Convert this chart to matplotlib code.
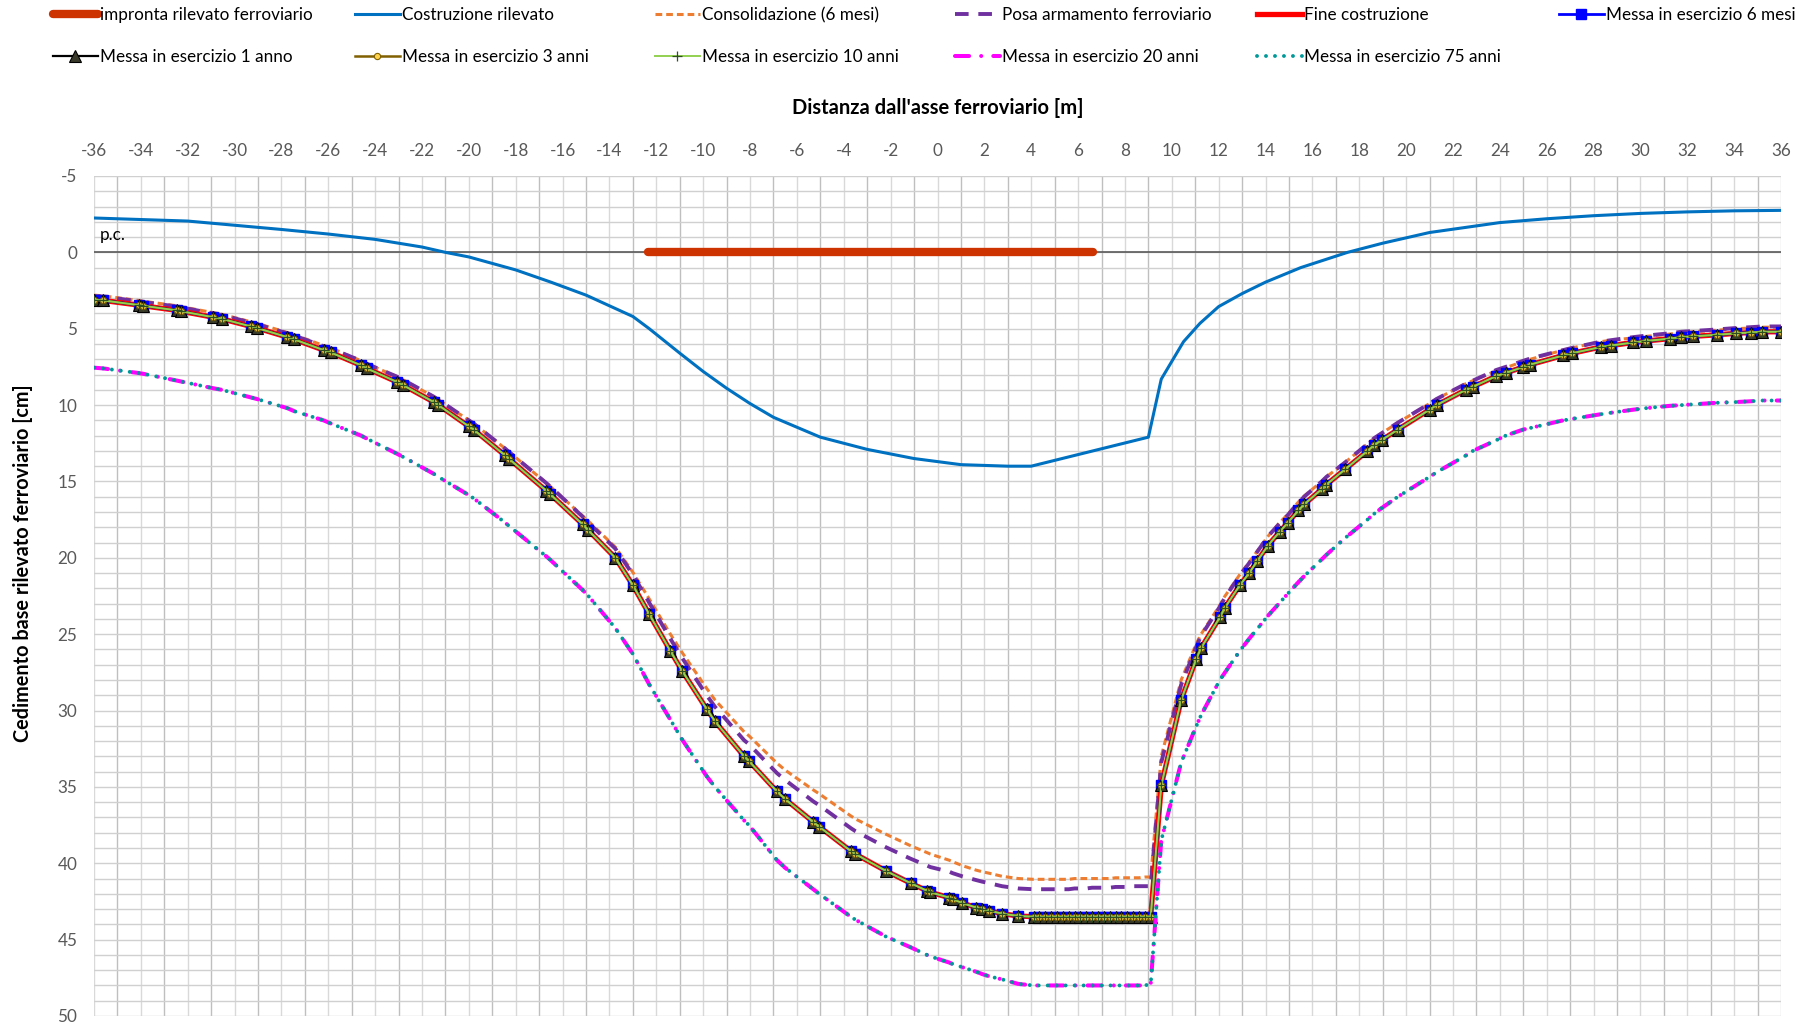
import numpy as np
import matplotlib.pyplot as plt

plt.rcParams['font.family'] = ['Lato', 'DejaVu Sans']
plt.rcParams['axes.unicode_minus'] = False

# ---- dati ----
# impronta del rilevato (da x1 a x2, quota 0)
impronta_x = [-12.35, 6.65]
impronta_y = [0.0, 0.0]

# fase di costruzione del rilevato
costr_x = [-36, -32, -28, -26, -24, -22, -21, -20, -18, -16.5, -15, -13, -12.3, -11, -10,
           -9, -8, -7, -5, -3, -1, 1, 3, 4, 9, 9.55, 10.5, 11.2, 12, 13, 14, 15.5,
           17.5, 19, 21, 24, 26, 28, 30, 32, 34, 36]
costr_y = [-2.25, -2.05, -1.5, -1.2, -0.85, -0.35, 0.0, 0.3, 1.15, 1.95, 2.8, 4.2, 5.0, 6.6, 7.8,
           8.9, 9.9, 10.8, 12.1, 12.9, 13.5, 13.9, 14.0, 14.0, 12.1, 8.3, 5.85, 4.65, 3.55, 2.7,
           1.95, 1.0, 0.0, -0.6, -1.3, -1.95, -2.2, -2.4, -2.55, -2.65, -2.72, -2.75]

# ascisse dei punti di calcolo [m]
x_punti = [-36.0, -35.6, -34.1, -33.9, -32.45, -32.3, -30.9, -30.55, -29.3, -29.05,
           -27.75, -27.45, -26.2, -25.9, -24.6, -24.35, -23.05, -22.8, -21.5, -21.3,
           -20.0, -19.8, -18.45, -18.3, -16.7, -16.55, -15.15, -14.9, -13.75, -13.0,
           -12.3, -11.4, -10.9, -9.85, -9.5, -8.25, -8.05, -6.85, -6.5, -5.3,
           -5.05, -3.7, -3.5, -2.2, -1.15, -0.45, -0.3, 0.5, 0.65, 1.05,
           1.65, 1.9, 2.2, 2.75, 3.45,
           4.1, 4.35, 4.6, 4.85, 5.1, 5.35, 5.6, 5.85, 6.1, 6.35,
           6.6, 6.85, 7.1, 7.35, 7.6, 7.85, 8.1, 8.35, 8.6, 8.85, 9.1,
           9.55, 10.4, 11.05, 11.25, 12.05, 12.25, 12.9, 13.3, 13.65, 14.1,
           14.6, 14.95, 15.4, 15.65, 16.4, 16.6, 17.4, 18.35, 18.65, 18.95,
           19.65, 21.0, 21.3, 22.55, 22.85, 23.85, 24.25, 25.0, 25.3, 26.7,
           27.1, 28.3, 28.75, 29.7, 30.25, 31.25, 31.75, 32.25, 33.25, 34.1,
           34.7, 35.2, 36.0]

# fine costruzione / messa in esercizio 6 mesi - 10 anni [cm]
ced_esercizio = [3.1, 3.15, 3.45, 3.5, 3.8, 3.85, 4.25, 4.35, 4.85, 4.95,
                 5.55, 5.7, 6.4, 6.55, 7.4, 7.6, 8.5, 8.7, 9.8, 10.0,
                 11.4, 11.6, 13.3, 13.5, 15.6, 15.8, 17.8, 18.2, 20.0, 21.8,
                 23.7, 26.1, 27.4, 29.9, 30.7, 33.0, 33.3, 35.3, 35.8, 37.3,
                 37.6, 39.2, 39.4, 40.5, 41.3, 41.8, 41.9, 42.25, 42.35, 42.6,
                 42.9, 43.0, 43.1, 43.3, 43.45,
                 43.5, 43.5, 43.5, 43.5, 43.5, 43.5, 43.5, 43.5, 43.5, 43.5,
                 43.5, 43.5, 43.5, 43.5, 43.5, 43.5, 43.5, 43.5, 43.5, 43.5, 43.5,
                 34.9, 29.3, 26.6, 25.9, 23.9, 23.3, 21.8, 21.0, 20.2, 19.2,
                 18.3, 17.7, 16.9, 16.5, 15.5, 15.2, 14.2, 13.0, 12.6, 12.3,
                 11.6, 10.3, 10.0, 9.0, 8.8, 8.1, 7.9, 7.5, 7.35, 6.75,
                 6.6, 6.2, 6.1, 5.9, 5.8, 5.65, 5.55, 5.5, 5.4, 5.3,
                 5.25, 5.2, 5.2]

ced_consolidazione = [2.8, 2.85, 3.15, 3.2, 3.5, 3.55, 3.95, 4.05, 4.55, 4.65,
                      5.25, 5.4, 6.1, 6.25, 7.1, 7.3, 8.15, 8.35, 9.45, 9.65,
                      11.0, 11.2, 12.85, 13.05, 15.1, 15.3, 17.25, 17.6, 19.3, 20.95,
                      22.7, 25.0, 26.2, 28.55, 29.3, 31.4, 31.65, 33.45, 33.9, 35.2,
                      35.45, 36.9, 37.1, 38.1, 38.85, 39.3, 39.4, 39.8, 39.9, 40.15,
                      40.45, 40.55, 40.65, 40.85, 41.0,
                      41.05, 41.05, 41.05, 41.05, 41.05, 41.05, 41.05, 41.0, 41.0, 41.0,
                      41.0, 41.0, 41.0, 41.0, 40.95, 40.95, 40.95, 40.95, 40.95, 40.9, 40.9,
                      33.0, 28.0, 25.6, 25.0, 23.1, 22.55, 21.1, 20.3, 19.55, 18.6,
                      17.7, 17.15, 16.35, 15.95, 15.0, 14.7, 13.75, 12.55, 12.15, 11.85,
                      11.15, 9.9, 9.6, 8.6, 8.4, 7.75, 7.55, 7.15, 7.0, 6.4,
                      6.25, 5.85, 5.75, 5.6, 5.5, 5.35, 5.25, 5.2, 5.1, 5.0,
                      4.95, 4.9, 4.9]

ced_posa = [2.85, 2.9, 3.2, 3.25, 3.55, 3.6, 4.0, 4.1, 4.6, 4.7,
            5.3, 5.45, 6.15, 6.3, 7.1, 7.3, 8.15, 8.35, 9.45, 9.65,
            11.0, 11.2, 12.85, 13.05, 15.1, 15.3, 17.3, 17.7, 19.4, 21.1,
            22.95, 25.3, 26.55, 29.0, 29.75, 31.95, 32.2, 34.1, 34.55, 35.95,
            36.2, 37.7, 37.9, 38.95, 39.7, 40.15, 40.25, 40.55, 40.65, 40.85,
            41.1, 41.2, 41.3, 41.5, 41.65,
            41.7, 41.7, 41.7, 41.7, 41.7, 41.7, 41.7, 41.65, 41.65, 41.65,
            41.6, 41.6, 41.6, 41.6, 41.55, 41.55, 41.55, 41.5, 41.5, 41.5, 41.5,
            33.4, 28.3, 25.8, 25.1, 23.2, 22.65, 21.15, 20.35, 19.6, 18.6,
            17.75, 17.2, 16.4, 16.0, 15.0, 14.7, 13.75, 12.55, 12.15, 11.85,
            11.15, 9.9, 9.6, 8.6, 8.4, 7.7, 7.5, 7.1, 6.95, 6.4,
            6.25, 5.85, 5.75, 5.55, 5.45, 5.3, 5.2, 5.15, 5.05, 4.95,
            4.9, 4.85, 4.85]

# messa in esercizio 20 anni / 75 anni [cm]
ced_lungo_termine = [7.55, 7.6, 7.9, 7.95, 8.4, 8.45, 8.9, 9.0, 9.5, 9.6,
                     10.2, 10.4, 11.0, 11.2, 12.0, 12.2, 13.2, 13.4, 14.5, 14.7,
                     15.9, 16.1, 17.7, 17.9, 19.9, 20.1, 22.1, 22.5, 24.6, 26.3,
                     28.3, 30.6, 31.9, 34.3, 35.0, 37.2, 37.5, 39.8, 40.3, 41.7,
                     42.0, 43.5, 43.7, 44.8, 45.5, 46.0, 46.1, 46.5, 46.6, 46.8,
                     47.1, 47.25, 47.4, 47.6, 47.9,
                     48.0, 48.0, 48.0, 48.0, 48.0, 48.0, 48.0, 48.0, 48.0, 48.0,
                     48.0, 48.0, 48.0, 48.0, 48.0, 48.0, 48.0, 48.0, 48.0, 48.0, 47.9,
                     38.5, 33.4, 31.0, 30.3, 28.0, 27.55, 26.1, 25.3, 24.65, 23.8,
                     22.95, 22.35, 21.6, 21.2, 20.1, 19.8, 18.7, 17.5, 17.1, 16.75,
                     16.0, 14.7, 14.4, 13.3, 13.0, 12.3, 12.0, 11.6, 11.5, 11.0,
                     10.9, 10.6, 10.5, 10.3, 10.2, 10.05, 10.0, 9.95, 9.85, 9.8,
                     9.75, 9.7, 9.7]

# ---- figura ----
fig = plt.figure(figsize=(18.07, 10.23), dpi=100)
ax = fig.add_axes([94 / 1807, 1 - 1016 / 1023, (1781 - 94) / 1807, (1016 - 176) / 1023])

ax.set_xlim(-36, 36)
ax.set_ylim(50, -5)
ax.xaxis.tick_top()
ax.set_xticks(np.arange(-36, 37, 2))
ax.set_xticks(np.arange(-35, 36, 2), minor=True)
ax.set_yticks(np.arange(-5, 51, 5))
ax.set_yticks(np.arange(-5, 51, 1), minor=True)
ax.tick_params(axis='both', which='both', length=0, labelsize=12.3, labelcolor='#595959')
ax.tick_params(axis='x', pad=12)
ax.tick_params(axis='y', pad=12)
ax.set_axisbelow(True)
ax.grid(which='major', axis='x', color='#D9D9D9', lw=1.0)
ax.grid(which='minor', axis='x', color='#BFBFBF', lw=1.0)
ax.grid(which='both', axis='y', color='#D0D0D0', lw=1.0)
for s in ax.spines.values():
    s.set_visible(False)

# piano campagna
ax.axhline(0, color='#595959', lw=1.2, zorder=1.5)
ax.text(-35.75, -1.15, 'p.c.', fontsize=12.3, color='black', va='center', ha='left')

h_imp, = ax.plot(impronta_x, impronta_y, color='#CC3300', lw=6, solid_capstyle='round',
                 label='impronta rilevato ferroviario')
h_costr, = ax.plot(costr_x, costr_y, color='#0070C0', lw=2.2, label='Costruzione rilevato')
h_cons, = ax.plot(x_punti, ced_consolidazione, color='#ED7D31', lw=2.2, dashes=(2.2, 1.3),
                  label='Consolidazione (6 mesi)')
h_posa, = ax.plot(x_punti, ced_posa, color='#7030A0', lw=2.8, dashes=(3.5, 2.5),
                  label='Posa armamento ferroviario')
h_fine, = ax.plot(x_punti, ced_esercizio, color='#FF0000', lw=3.8, label='Fine costruzione')
h_6m, = ax.plot(x_punti, ced_esercizio, color='#0000FF', lw=2.0, marker='s', ms=7,
                mfc='#0000FF', mec='#0000FF', label='Messa in esercizio 6 mesi')
h_1a, = ax.plot(x_punti, ced_esercizio, color='black', lw=1.6, marker='^', ms=9,
                mfc='#3A3A2A', mec='black', mew=0.8, label='Messa in esercizio 1 anno')
h_3a, = ax.plot(x_punti, ced_esercizio, color='#806000', lw=1.8, marker='o', ms=4.5,
                mfc='#FFD34D', mec='#806000', mew=0.8, label='Messa in esercizio 3 anni')
h_10a, = ax.plot(x_punti, ced_esercizio, color='#92D050', lw=1.4, marker='+', ms=7,
                 mec='#2F4F1F', mew=0.9, label='Messa in esercizio 10 anni')
h_20a, = ax.plot(x_punti, ced_lungo_termine, color='#FF00FF', lw=2.9,
                 dashes=(3.5, 3, 0.01, 3), dash_capstyle='round',
                 label='Messa in esercizio 20 anni')
h_75a, = ax.plot(x_punti, ced_lungo_termine, color='#009999', lw=2.8,
                 dashes=(0.01, 2.3), dash_capstyle='round',
                 label='Messa in esercizio 75 anni')

# titoli assi
fig.text(0.5 * (94 + 1781) / 1807, 1 - 108 / 1023, "Distanza dall'asse ferroviario [m]",
         ha='center', va='center', fontsize=14.5, fontweight='bold')
fig.text(23 / 1807, 1 - 563 / 1023, 'Cedimento base rilevato ferroviario [cm]',
         ha='center', va='center', rotation=90, fontsize=14.3, fontweight='bold')

# legenda: sei colonne come nell'originale
colonne = [[h_imp, h_1a], [h_costr, h_3a], [h_cons, h_10a],
           [h_posa, h_20a], [h_fine, h_75a], [h_6m]]
x_col = [53, 355, 655, 955, 1257, 1559]
for hs, xc in zip(colonne, x_col):
    fig.legend(handles=hs, loc='upper left', bbox_to_anchor=(xc / 1807, 1 - 7 / 1023),
               frameon=False, fontsize=12.3, handlelength=2.63, handletextpad=0.1,
               labelspacing=1.5, borderpad=0, borderaxespad=0, numpoints=1)

fig.savefig('out.png', dpi=100)
